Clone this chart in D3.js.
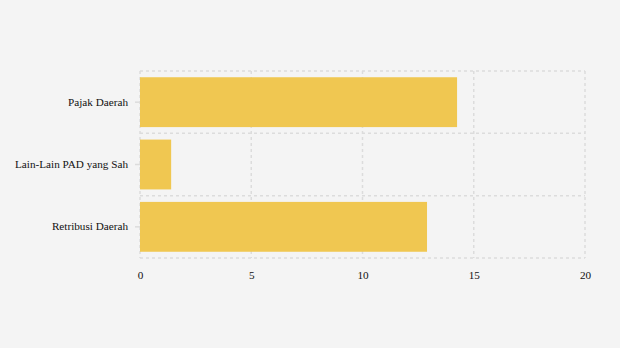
<!DOCTYPE html>
<html>
<head>
<meta charset="utf-8">
<script src="https://cdn.jsdelivr.net/npm/d3@7"></script>
<style>
  body { margin: 0; background: #f4f4f4; }
</style>
</head>
<body>
<div id="chart"></div>
<script>
// chart values
var categories = ["Pajak Daerah", "Lain-Lain PAD yang Sah", "Retribusi Daerah"];
var values = [14.25, 1.4, 12.9];
var xTicks = [0, 5, 10, 15, 20];

var data = categories.map(function(c, i) { return { name: c, value: values[i] }; });

var margin = {top: 71, right: 35, bottom: 90, left: 140},
    width = 620 - margin.left - margin.right,
    height = 348 - margin.top - margin.bottom;

var svg = d3.select("#chart").append("svg")
    .attr("width", 620)
    .attr("height", 348)
    .style("background", "#f4f4f4");

var g = svg.append("g")
    .attr("transform", "translate(" + margin.left + "," + margin.top + ")");

var x = d3.scaleLinear().domain([0, 20]).range([0, width]);
var y = d3.scaleBand().domain(categories).range([0, height]).paddingInner(0.2).paddingOuter(0.1);

// grid: vertical lines at ticks
g.selectAll(".vgrid")
  .data(xTicks)
  .enter().append("line")
    .attr("x1", function(d) { return x(d); })
    .attr("x2", function(d) { return x(d); })
    .attr("y1", 0)
    .attr("y2", height)
    .style("stroke", "#dcdcdc")
    .style("stroke-width", 1.5)
    .style("stroke-dasharray", "3,3");

// grid: horizontal lines at band boundaries
var bounds = [0].concat(categories.map(function(c) { return y(c) + y.bandwidth() + y.step() * y.paddingInner() / 2; }));
bounds[bounds.length - 1] = height;
g.selectAll(".hgrid")
  .data(bounds)
  .enter().append("line")
    .attr("x1", 0)
    .attr("x2", width)
    .attr("y1", function(d) { return d; })
    .attr("y2", function(d) { return d; })
    .style("stroke", "#dcdcdc")
    .style("stroke-width", 1.5)
    .style("stroke-dasharray", "3,3");

// bars
g.selectAll(".bar")
  .data(data)
  .enter().append("rect")
    .attr("class", "bar")
    .attr("x", x(0))
    .attr("y", function(d) { return y(d.name); })
    .attr("width", function(d) { return x(d.value) - x(0); })
    .attr("height", y.bandwidth())
    .style("fill", "#f0c751");

// Y axis
var yAxis = g.append("g")
    .attr("font-family", "serif")
    .attr("font-size", 11.2)
    .call(d3.axisLeft(y).tickSize(5).tickPadding(7));
yAxis.attr("font-family", "serif").attr("font-size", 11.2);
yAxis.select(".domain").remove();
yAxis.selectAll("line").style("stroke", "#dcdcdc").style("stroke-width", 1.5);
yAxis.selectAll("text").attr("fill", "#111");

// X axis
var xAxis = g.append("g")
    .attr("transform", "translate(0," + height + ")")
    .call(d3.axisBottom(x).tickValues(xTicks).tickSize(0).tickPadding(13));
xAxis.attr("font-family", "serif").attr("font-size", 11.2);
xAxis.select(".domain").remove();
xAxis.selectAll("text").attr("fill", "#111");
</script>
</body>
</html>
